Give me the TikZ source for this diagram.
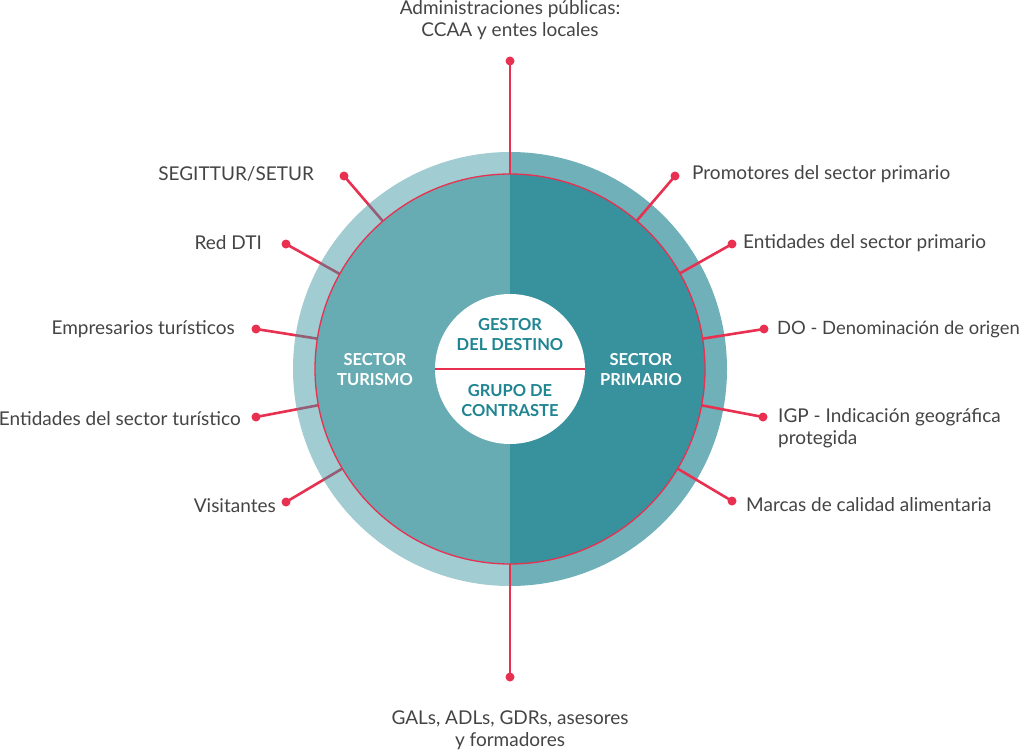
\documentclass[tikz,border=0pt]{standalone}
\usepackage{fontspec}
\setmainfont{Lato}
\usetikzlibrary{calc}
\definecolor{ringL}{RGB}{163,203,208}
\definecolor{ringR}{RGB}{111,176,185}
\definecolor{innL}{RGB}{103,171,179}
\definecolor{innR}{RGB}{56,146,158}
\definecolor{spk}{RGB}{232,48,80}
\definecolor{lbl}{RGB}{68,68,68}
\definecolor{ctr}{RGB}{30,133,145}
\tikzset{
  dot/.style={circle,fill=spk,inner sep=0pt,minimum size=9pt},
  spoke/.style={draw=spk,line width=2.6pt},
  lab/.style={text=lbl,font=\fontsize{19}{22}\selectfont,inner sep=0pt,align=left},
  labc/.style={text=lbl,font=\fontsize{19}{22}\selectfont,inner sep=0pt,align=center},
  sect/.style={text=white,font=\fontsize{16.5}{20}\selectfont\bfseries,align=center,inner sep=0pt},
  ctrtxt/.style={text=ctr,font=\fontsize{16.5}{20}\selectfont\bfseries,align=center,inner sep=0pt}
}
\begin{document}
\begin{tikzpicture}[x=1pt,y=-1pt]
\useasboundingbox (0,0) rectangle (1024,752);
\coordinate (c) at (510,369);
% dots
\node[dot] (dT)  at (510,61) {};
\node[dot] (dB)  at (510,677) {};
\node[dot] (dR1) at (675,176) {};
\node[dot] (dR2) at (732,244) {};
\node[dot] (dR3) at (764,329) {};
\node[dot] (dR4) at (763,417) {};
\node[dot] (dR5) at (732,501) {};
\node[dot] (dL1) at (344,176) {};
\node[dot] (dL2) at (286,244) {};
\node[dot] (dL3) at (256,329) {};
\node[dot] (dL4) at (256,417) {};
\node[dot] (dL5) at (286,502) {};
% outer ring, right half
\fill[ringR] (c) ++(0,-217) arc[start angle=-90,end angle=90,radius=217] -- cycle;
% left spokes (under translucent left ring)
\foreach \d in {dL1,dL2,dL3,dL4,dL5}
  \draw[spoke] (\d.center) -- ($(c)!195pt!(\d.center)$);
% outer ring, left half (translucent)
\fill[innR,opacity=0.47] (c) ++(0,-217) arc[start angle=-90,end angle=-270,radius=217] -- cycle;
% inner disc halves
\fill[innL] (c) ++(0,-195) arc[start angle=-90,end angle=-270,radius=195] -- cycle;
\fill[innR] (c) ++(0,-195) arc[start angle=-90,end angle=90,radius=195] -- cycle;
\draw[spk,line width=1.3pt] (c) circle[radius=195];
% right spokes
\foreach \d in {dR1,dR2,dR3,dR4,dR5}
  \draw[spoke] (\d.center) -- ($(c)!195pt!(\d.center)$);
\draw[spoke] (dT.center) -- ($(c)!195pt!(dT.center)$);
\draw[spoke] (dB.center) -- ($(c)!195pt!(dB.center)$);
% centre
\node[circle,fill=white,minimum size=150pt,inner sep=0pt] (hub) at (c) {};
\draw[spk,line width=2.2pt] (hub.west) -- (hub.east);
\node[ctrtxt] (gest) at (510,335) {GESTOR\\DEL DESTINO};
\node[ctrtxt] (grup) at (510,401) {GRUPO DE\\CONTRASTE};
\node[sect] (st) at (375,370) {SECTOR\\TURISMO};
\node[sect] (sp) at (641,370) {SECTOR\\PRIMARIO};
% labels
\node[labc] (tT) at (510,20) {Administraciones públicas:\\CCAA y entes locales};
\node[labc] (tB) at (510,730) {GALs, ADLs, GDRs, asesores\\y formadores};
\node[lab,anchor=west] (tR1) at (692,174) {Promotores del sector primario};
\node[lab,anchor=west] (tR2) at (743,243) {Entidades del sector primario};
\node[lab,anchor=west,font=\fontsize{18.4}{22}\selectfont] (tR3) at (777,329) {DO - Denominación de origen};
\node[lab,anchor=north west] (tR4) at (778,408) {IGP - Indicación geográfica\\protegida};
\node[lab,anchor=west] (tR5) at (746,505) {Marcas de calidad alimentaria};
\node[lab,anchor=east] (tL1) at (314,174) {SEGITTUR/SETUR};
\node[lab,anchor=east] (tL2) at (262,243) {Red DTI};
\node[lab,anchor=east] (tL3) at (235,329) {Empresarios turísticos};
\node[lab,anchor=east] (tL4) at (241,419) {Entidades del sector turístico};
\node[lab,anchor=east] (tL5) at (276,506) {Visitantes};
\end{tikzpicture}
\end{document}
